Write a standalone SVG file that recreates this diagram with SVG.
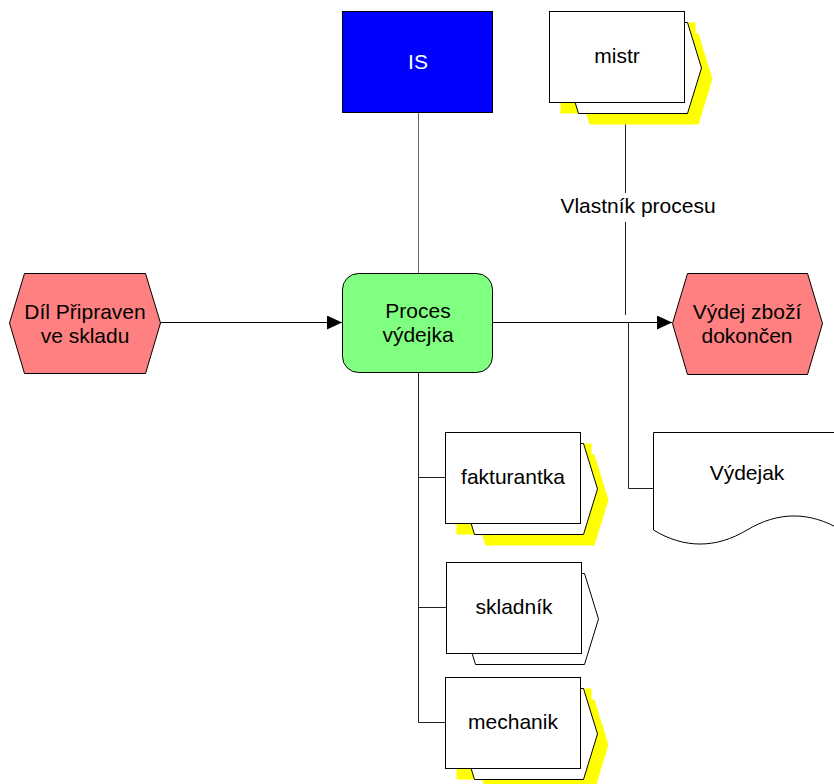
<svg xmlns="http://www.w3.org/2000/svg" xmlns:xlink="http://www.w3.org/1999/xlink" width="834" height="784" viewBox="0 0 834 784">
  <style>
    text { font-family: "Liberation Sans", Arial, sans-serif; font-size: 21px; fill: #000; text-anchor: middle; }
    .event { fill: #FF8080; stroke: #000; stroke-width: 1; }
    .func { fill: #80FF80; stroke: #000; stroke-width: 1; }
    .sys { fill: #0000FF; stroke: #000; stroke-width: 1; }
    .box { fill: #FFFFFF; stroke: #000; stroke-width: 1; }
    .shadow { fill: #FFFF00; stroke: none; }
    .flow { fill: none; stroke: #000; stroke-width: 1; }
    .link { fill: none; stroke: #222; stroke-width: 1; }
    .link-gray { fill: none; stroke: #666; stroke-width: 1; }
  </style>
  <defs>
    <marker id="arrow" markerWidth="15" markerHeight="14" refX="15" refY="7" orient="auto" markerUnits="userSpaceOnUse">
      <path d="M0,0 L15,7 L0,14 Z" fill="#000"/>
    </marker>
    <!-- position symbol: rear chevron plate behind a front card -->
    <polygon id="posBack" points="29.5,11.5 138.5,11.5 152.5,57 138.5,102.5 29.5,102.5 15.5,57"/>
    <rect id="posFront" x="0.5" y="0.5" width="135" height="91"/>
    <g id="posShade">
      <use xlink:href="#posBack" transform="translate(11,11)"/>
      <use xlink:href="#posFront" transform="translate(11,11)"/>
    </g>
  </defs>

  <!-- connectors -->
  <g id="connectors">
    <line class="link-gray" x1="418.5" y1="113" x2="418.5" y2="273"/>
    <line class="flow" x1="160" y1="322.5" x2="342" y2="322.5" marker-end="url(#arrow)"/>
    <line class="flow" x1="493" y1="322.5" x2="672" y2="322.5" marker-end="url(#arrow)"/>
    <polyline class="link" points="418.5,372 418.5,722.5 445,722.5"/>
    <line class="link" x1="418.5" y1="477.5" x2="445" y2="477.5"/>
    <line class="link" x1="418.5" y1="607.5" x2="446" y2="607.5"/>
    <line class="link" x1="625.5" y1="124" x2="625.5" y2="193"/>
    <line class="link" x1="625.5" y1="222" x2="625.5" y2="315"/>
    <text x="638" y="213">Vlastník procesu</text>
    <polyline class="link" points="628.5,322 628.5,488.5 653,488.5"/>
  </g>

  <!-- information system -->
  <g id="node-is">
    <rect class="sys" x="342.5" y="11.5" width="150" height="101"/>
    <text x="418" y="69" style="fill:#FFFFFF">IS</text>
  </g>

  <!-- start event -->
  <g id="node-dil-pripraven">
    <polygon class="event" points="9.5,323 24.5,273.5 145.5,273.5 160.5,323 145.5,373.5 24.5,373.5"/>
    <text x="85" y="319">Díl Připraven</text>
    <text x="85" y="343">ve skladu</text>
  </g>

  <!-- function -->
  <g id="node-proces-vydejka">
    <rect class="func" x="342.5" y="273.5" width="150" height="99" rx="16" ry="16"/>
    <text x="418" y="318">Proces</text>
    <text x="418" y="342">výdejka</text>
  </g>

  <!-- end event -->
  <g id="node-vydej-dokoncen">
    <polygon class="event" points="672.5,323.5 687.5,273.5 807.5,273.5 822.5,323.5 807.5,374.5 687.5,374.5"/>
    <text x="747" y="319">Výdej zboží</text>
    <text x="747" y="343">dokončen</text>
  </g>

  <!-- document -->
  <g id="node-vydejak">
    <path class="box" d="M653.5,432.5 H841 V530 C810,511.3 778,511.3 747,530 C716,548.7 684,548.7 653.5,530 Z"/>
    <text x="747" y="480">Výdejak</text>
  </g>

  <!-- positions -->
  <g id="node-mistr" transform="translate(549,11)">
    <use xlink:href="#posShade" class="shadow"/>
    <use xlink:href="#posBack" class="box"/>
    <use xlink:href="#posFront" class="box"/>
    <text x="68" y="52">mistr</text>
  </g>

  <g id="node-fakturantka" transform="translate(445,432)">
    <use xlink:href="#posShade" class="shadow"/>
    <use xlink:href="#posBack" class="box"/>
    <use xlink:href="#posFront" class="box"/>
    <text x="68" y="52">fakturantka</text>
  </g>

  <g id="node-skladnik" transform="translate(446,562)">
    <use xlink:href="#posBack" class="box"/>
    <use xlink:href="#posFront" class="box"/>
    <text x="68" y="52">skladník</text>
  </g>

  <g id="node-mechanik" transform="translate(445,677)">
    <use xlink:href="#posShade" class="shadow"/>
    <use xlink:href="#posBack" class="box"/>
    <use xlink:href="#posFront" class="box"/>
    <text x="68" y="52">mechanik</text>
  </g>
</svg>
